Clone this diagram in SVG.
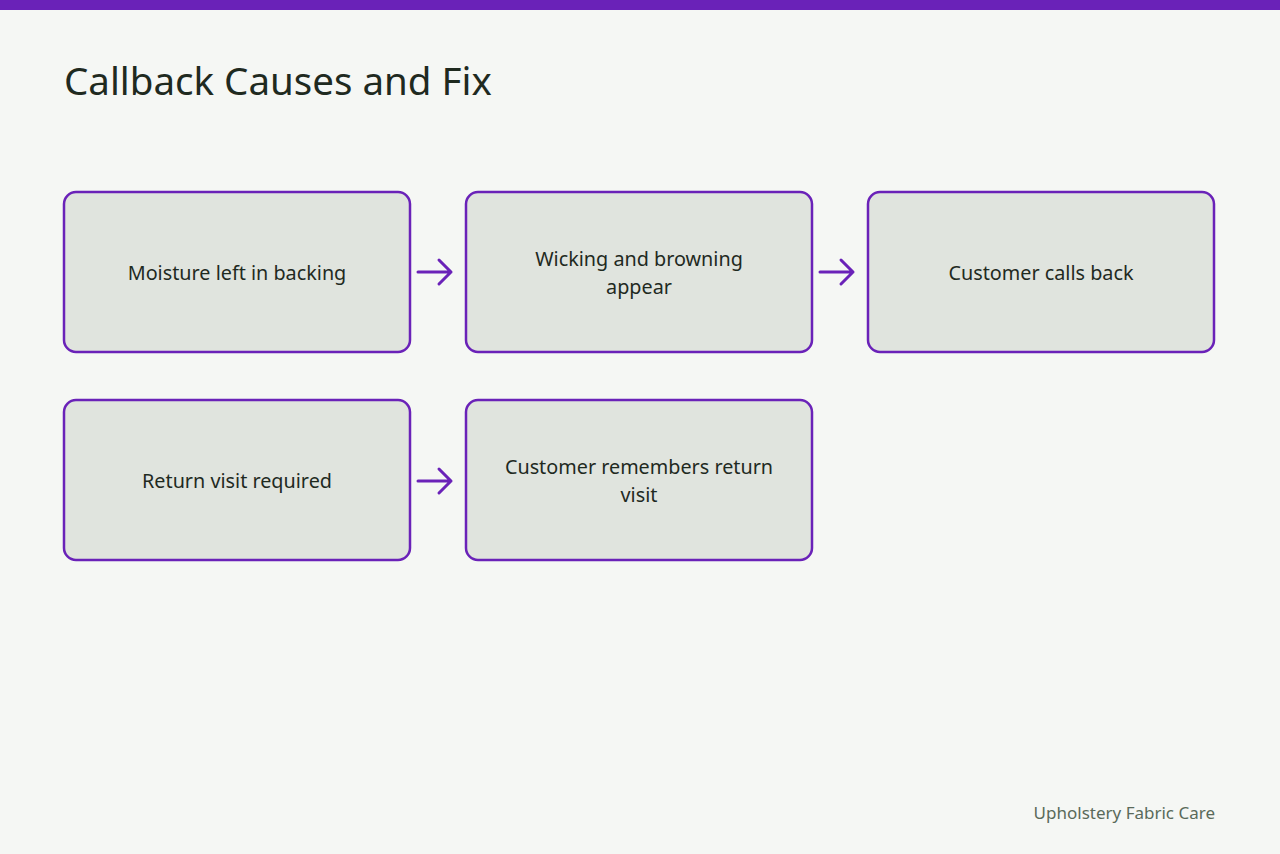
<svg xmlns="http://www.w3.org/2000/svg" width="1280" height="854" viewBox="0 0 1280 854">
<style>
.n rect{fill:#e0e4de;stroke:#6a22b8;stroke-width:2.5}
.n text{font-family:"Noto Sans",sans-serif;font-size:19.8px;fill:#1f2a1f;text-anchor:middle}
.c path{fill:none;stroke:#6a22b8;stroke-width:3;stroke-linecap:round;stroke-linejoin:round}
</style>
<rect width="1280" height="854" fill="#f5f7f4"/>
<rect width="1280" height="10" fill="#6a22b8"/>
<text x="64" y="95" font-family="Noto Sans,sans-serif" font-size="38.5" fill="#1f2a1f">Callback Causes and Fix</text>
<g id="n1" class="n"><rect x="64" y="192" width="346" height="160" rx="12"/><text x="237" y="280">Moisture left in backing</text></g>
<g id="n2" class="n"><rect x="466" y="192" width="346" height="160" rx="12"/><text x="639" y="266">Wicking and browning</text><text x="639" y="294">appear</text></g>
<g id="n3" class="n"><rect x="868" y="192" width="346" height="160" rx="12"/><text x="1041" y="280">Customer calls back</text></g>
<g id="n4" class="n"><rect x="64" y="400" width="346" height="160" rx="12"/><text x="237" y="488">Return visit required</text></g>
<g id="n5" class="n"><rect x="466" y="400" width="346" height="160" rx="12"/><text x="639" y="474">Customer remembers return</text><text x="639" y="502">visit</text></g>
<g id="connectors" class="c">
<path d="M418 272H451M439 260L451 272L439 284"/>
<path d="M820 272H853M841 260L853 272L841 284"/>
<path d="M418 481H451M439 469L451 481L439 493"/>
</g>
<text x="1215" y="819" text-anchor="end" font-family="Noto Sans,sans-serif" font-size="17" fill="#5a6a5a">Upholstery Fabric Care</text>
</svg>
